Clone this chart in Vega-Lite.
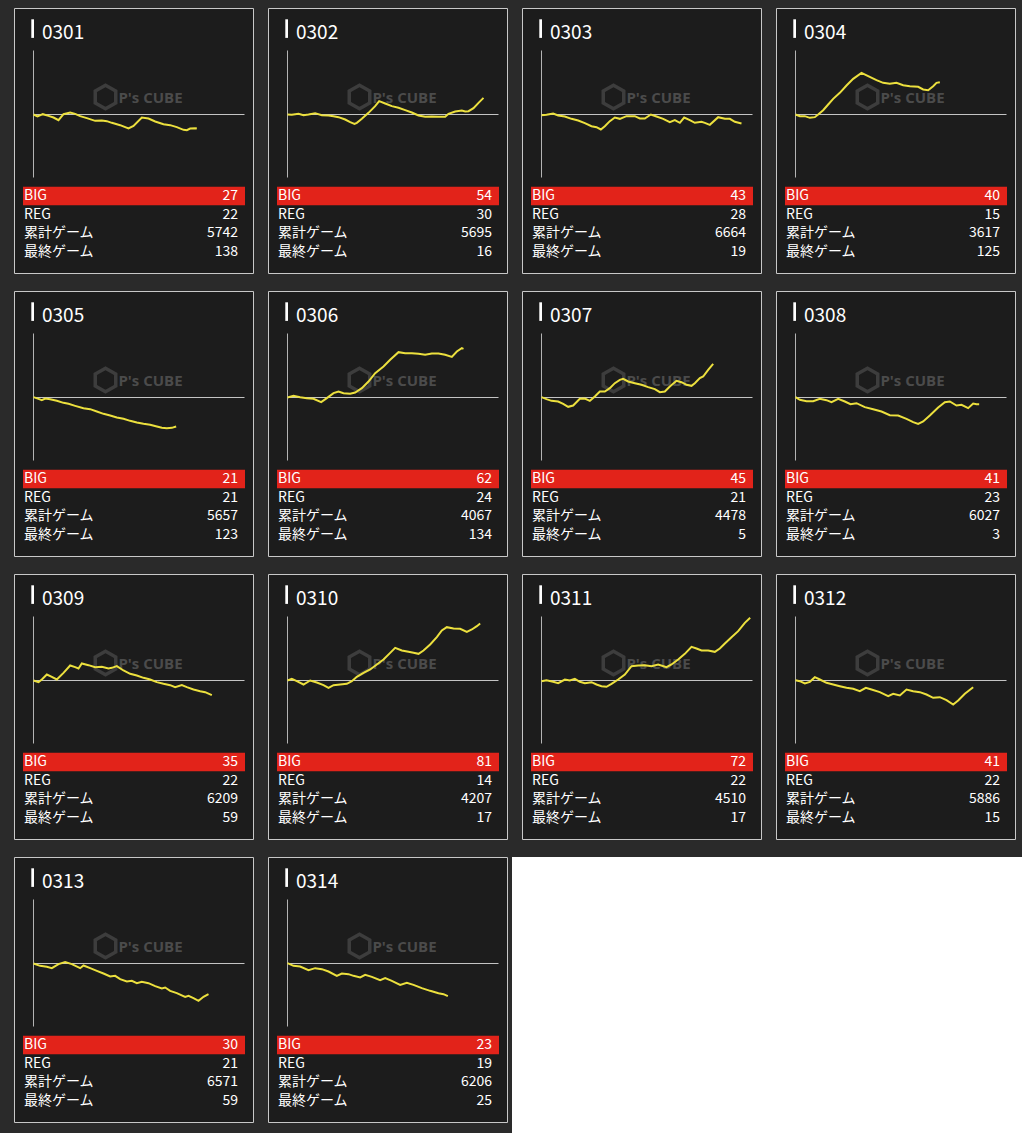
{
"$schema":"https://vega.github.io/schema/vega-lite/v6.json",
"background":"#2a2a2a",
"padding":{"left":13,"top":6,"right":0,"bottom":0},
"config":{"view":{"fill":"#1c1c1c","stroke":"#c8c8c8","strokeWidth":1},"font":"Noto Sans CJK JP","header":{"labels":false,"title":null,"labelPadding":0,"titlePadding":0,"labelFontSize":1,"labelColor":"transparent"},"headerFacet":{"labels":false,"title":null,"labelPadding":0,"titlePadding":0,"labelFontSize":1,"labelColor":"transparent"}},
"datasets":{"d":[
{"p":"0301","item":"BIG","value":27},{"p":"0301","item":"REG","value":22},{"p":"0301","item":"累計ゲーム","value":5742},{"p":"0301","item":"最終ゲーム","value":138},
{"p":"0302","item":"BIG","value":54},{"p":"0302","item":"REG","value":30},{"p":"0302","item":"累計ゲーム","value":5695},{"p":"0302","item":"最終ゲーム","value":16},
{"p":"0303","item":"BIG","value":43},{"p":"0303","item":"REG","value":28},{"p":"0303","item":"累計ゲーム","value":6664},{"p":"0303","item":"最終ゲーム","value":19},
{"p":"0304","item":"BIG","value":40},{"p":"0304","item":"REG","value":15},{"p":"0304","item":"累計ゲーム","value":3617},{"p":"0304","item":"最終ゲーム","value":125},
{"p":"0305","item":"BIG","value":21},{"p":"0305","item":"REG","value":21},{"p":"0305","item":"累計ゲーム","value":5657},{"p":"0305","item":"最終ゲーム","value":123},
{"p":"0306","item":"BIG","value":62},{"p":"0306","item":"REG","value":24},{"p":"0306","item":"累計ゲーム","value":4067},{"p":"0306","item":"最終ゲーム","value":134},
{"p":"0307","item":"BIG","value":45},{"p":"0307","item":"REG","value":21},{"p":"0307","item":"累計ゲーム","value":4478},{"p":"0307","item":"最終ゲーム","value":5},
{"p":"0308","item":"BIG","value":41},{"p":"0308","item":"REG","value":23},{"p":"0308","item":"累計ゲーム","value":6027},{"p":"0308","item":"最終ゲーム","value":3},
{"p":"0309","item":"BIG","value":35},{"p":"0309","item":"REG","value":22},{"p":"0309","item":"累計ゲーム","value":6209},{"p":"0309","item":"最終ゲーム","value":59},
{"p":"0310","item":"BIG","value":81},{"p":"0310","item":"REG","value":14},{"p":"0310","item":"累計ゲーム","value":4207},{"p":"0310","item":"最終ゲーム","value":17},
{"p":"0311","item":"BIG","value":72},{"p":"0311","item":"REG","value":22},{"p":"0311","item":"累計ゲーム","value":4510},{"p":"0311","item":"最終ゲーム","value":17},
{"p":"0312","item":"BIG","value":41},{"p":"0312","item":"REG","value":22},{"p":"0312","item":"累計ゲーム","value":5886},{"p":"0312","item":"最終ゲーム","value":15},
{"p":"0313","item":"BIG","value":30},{"p":"0313","item":"REG","value":21},{"p":"0313","item":"累計ゲーム","value":6571},{"p":"0313","item":"最終ゲーム","value":59},
{"p":"0314","item":"BIG","value":23},{"p":"0314","item":"REG","value":19},{"p":"0314","item":"累計ゲーム","value":6206},{"p":"0314","item":"最終ゲーム","value":25},
{"p":"0301","g":0,"v":0},{"p":"0301","g":120,"v":-60},{"p":"0301","g":280,"v":10},{"p":"0301","g":450,"v":-40},{"p":"0301","g":600,"v":-90},{"p":"0301","g":750,"v":-170},{"p":"0301","g":900,"v":10},{"p":"0301","g":1100,"v":60},{"p":"0301","g":1250,"v":20},{"p":"0301","g":1400,"v":-50},{"p":"0301","g":1600,"v":-110},{"p":"0301","g":1850,"v":-190},{"p":"0301","g":2050,"v":-180},{"p":"0301","g":2200,"v":-200},{"p":"0301","g":2350,"v":-250},{"p":"0301","g":2600,"v":-320},{"p":"0301","g":2850,"v":-420},{"p":"0301","g":3000,"v":-340},{"p":"0301","g":3250,"v":-90},{"p":"0301","g":3450,"v":-120},{"p":"0301","g":3650,"v":-210},{"p":"0301","g":3900,"v":-290},{"p":"0301","g":4100,"v":-320},{"p":"0301","g":4300,"v":-380},{"p":"0301","g":4500,"v":-460},{"p":"0301","g":4600,"v":-470},{"p":"0301","g":4700,"v":-420},{"p":"0301","g":4850,"v":-410},{"p":"0301","g":4900,"v":-420},
{"p":"0302","g":0,"v":0},{"p":"0302","g":130,"v":-10},{"p":"0302","g":330,"v":20},{"p":"0302","g":480,"v":-20},{"p":"0302","g":630,"v":0},{"p":"0302","g":830,"v":40},{"p":"0302","g":1030,"v":-20},{"p":"0302","g":1230,"v":-30},{"p":"0302","g":1380,"v":-50},{"p":"0302","g":1530,"v":-80},{"p":"0302","g":1730,"v":-150},{"p":"0302","g":1880,"v":-230},{"p":"0302","g":2010,"v":-280},{"p":"0302","g":2080,"v":-250},{"p":"0302","g":2230,"v":-130},{"p":"0302","g":2430,"v":50},{"p":"0302","g":2630,"v":250},{"p":"0302","g":2750,"v":400},{"p":"0302","g":2930,"v":330},{"p":"0302","g":3130,"v":250},{"p":"0302","g":3330,"v":200},{"p":"0302","g":3530,"v":130},{"p":"0302","g":3730,"v":60},{"p":"0302","g":3930,"v":-30},{"p":"0302","g":4130,"v":-70},{"p":"0302","g":4330,"v":-60},{"p":"0302","g":4530,"v":-70},{"p":"0302","g":4730,"v":-70},{"p":"0302","g":4830,"v":20},{"p":"0302","g":5030,"v":90},{"p":"0302","g":5230,"v":120},{"p":"0302","g":5330,"v":90},{"p":"0302","g":5430,"v":100},{"p":"0302","g":5580,"v":190},{"p":"0302","g":5730,"v":350},{"p":"0302","g":5880,"v":500},
{"p":"0303","g":0,"v":-20},{"p":"0303","g":150,"v":-10},{"p":"0303","g":350,"v":30},{"p":"0303","g":500,"v":-30},{"p":"0303","g":700,"v":-60},{"p":"0303","g":900,"v":-130},{"p":"0303","g":1100,"v":-180},{"p":"0303","g":1300,"v":-260},{"p":"0303","g":1500,"v":-350},{"p":"0303","g":1650,"v":-380},{"p":"0303","g":1780,"v":-450},{"p":"0303","g":1900,"v":-350},{"p":"0303","g":2050,"v":-200},{"p":"0303","g":2200,"v":-90},{"p":"0303","g":2350,"v":-130},{"p":"0303","g":2550,"v":-50},{"p":"0303","g":2800,"v":-50},{"p":"0303","g":2950,"v":-120},{"p":"0303","g":3100,"v":-120},{"p":"0303","g":3280,"v":0},{"p":"0303","g":3450,"v":-60},{"p":"0303","g":3650,"v":-130},{"p":"0303","g":3850,"v":-230},{"p":"0303","g":4000,"v":-170},{"p":"0303","g":4150,"v":-250},{"p":"0303","g":4280,"v":-90},{"p":"0303","g":4450,"v":-170},{"p":"0303","g":4600,"v":-250},{"p":"0303","g":4800,"v":-220},{"p":"0303","g":4900,"v":-250},{"p":"0303","g":5050,"v":-310},{"p":"0303","g":5300,"v":-80},{"p":"0303","g":5500,"v":-130},{"p":"0303","g":5650,"v":-130},{"p":"0303","g":5800,"v":-220},{"p":"0303","g":6000,"v":-270},
{"p":"0304","g":0,"v":0},{"p":"0304","g":130,"v":-50},{"p":"0304","g":280,"v":-50},{"p":"0304","g":430,"v":-100},{"p":"0304","g":580,"v":-80},{"p":"0304","g":680,"v":0},{"p":"0304","g":830,"v":130},{"p":"0304","g":980,"v":300},{"p":"0304","g":1130,"v":470},{"p":"0304","g":1330,"v":650},{"p":"0304","g":1530,"v":870},{"p":"0304","g":1730,"v":1070},{"p":"0304","g":1980,"v":1250},{"p":"0304","g":2180,"v":1150},{"p":"0304","g":2430,"v":1030},{"p":"0304","g":2630,"v":950},{"p":"0304","g":2830,"v":920},{"p":"0304","g":3030,"v":950},{"p":"0304","g":3230,"v":880},{"p":"0304","g":3430,"v":850},{"p":"0304","g":3680,"v":830},{"p":"0304","g":3830,"v":750},{"p":"0304","g":3980,"v":730},{"p":"0304","g":4130,"v":850},{"p":"0304","g":4230,"v":950},{"p":"0304","g":4330,"v":970},
{"p":"0305","g":0,"v":10},{"p":"0305","g":150,"v":-40},{"p":"0305","g":250,"v":-80},{"p":"0305","g":350,"v":-30},{"p":"0305","g":500,"v":-50},{"p":"0305","g":700,"v":-100},{"p":"0305","g":900,"v":-160},{"p":"0305","g":1050,"v":-190},{"p":"0305","g":1250,"v":-250},{"p":"0305","g":1500,"v":-320},{"p":"0305","g":1700,"v":-350},{"p":"0305","g":1900,"v":-420},{"p":"0305","g":2100,"v":-490},{"p":"0305","g":2300,"v":-540},{"p":"0305","g":2500,"v":-600},{"p":"0305","g":2700,"v":-640},{"p":"0305","g":2900,"v":-700},{"p":"0305","g":3100,"v":-750},{"p":"0305","g":3300,"v":-790},{"p":"0305","g":3500,"v":-820},{"p":"0305","g":3700,"v":-870},{"p":"0305","g":3850,"v":-910},{"p":"0305","g":4000,"v":-920},{"p":"0305","g":4150,"v":-910},{"p":"0305","g":4280,"v":-870},
{"p":"0306","g":0,"v":0},{"p":"0306","g":180,"v":50},{"p":"0306","g":380,"v":10},{"p":"0306","g":580,"v":-20},{"p":"0306","g":780,"v":-40},{"p":"0306","g":1010,"v":-140},{"p":"0306","g":1180,"v":-20},{"p":"0306","g":1380,"v":130},{"p":"0306","g":1530,"v":180},{"p":"0306","g":1680,"v":130},{"p":"0306","g":1880,"v":110},{"p":"0306","g":2030,"v":150},{"p":"0306","g":2230,"v":280},{"p":"0306","g":2430,"v":480},{"p":"0306","g":2630,"v":730},{"p":"0306","g":2880,"v":930},{"p":"0306","g":3080,"v":1130},{"p":"0306","g":3330,"v":1360},{"p":"0306","g":3530,"v":1330},{"p":"0306","g":3730,"v":1330},{"p":"0306","g":3930,"v":1310},{"p":"0306","g":4130,"v":1280},{"p":"0306","g":4330,"v":1320},{"p":"0306","g":4530,"v":1320},{"p":"0306","g":4730,"v":1280},{"p":"0306","g":4930,"v":1220},{"p":"0306","g":5080,"v":1380},{"p":"0306","g":5230,"v":1480},{"p":"0306","g":5280,"v":1460},
{"p":"0307","g":0,"v":10},{"p":"0307","g":150,"v":-50},{"p":"0307","g":300,"v":-100},{"p":"0307","g":500,"v":-120},{"p":"0307","g":650,"v":-190},{"p":"0307","g":800,"v":-280},{"p":"0307","g":950,"v":-240},{"p":"0307","g":1150,"v":-40},{"p":"0307","g":1300,"v":-30},{"p":"0307","g":1450,"v":-100},{"p":"0307","g":1600,"v":30},{"p":"0307","g":1750,"v":180},{"p":"0307","g":1900,"v":180},{"p":"0307","g":2050,"v":280},{"p":"0307","g":2200,"v":430},{"p":"0307","g":2350,"v":530},{"p":"0307","g":2450,"v":560},{"p":"0307","g":2600,"v":480},{"p":"0307","g":2800,"v":430},{"p":"0307","g":3000,"v":380},{"p":"0307","g":3200,"v":310},{"p":"0307","g":3400,"v":250},{"p":"0307","g":3550,"v":160},{"p":"0307","g":3700,"v":180},{"p":"0307","g":3850,"v":330},{"p":"0307","g":4050,"v":500},{"p":"0307","g":4200,"v":460},{"p":"0307","g":4350,"v":380},{"p":"0307","g":4500,"v":350},{"p":"0307","g":4600,"v":430},{"p":"0307","g":4750,"v":580},{"p":"0307","g":4850,"v":630},{"p":"0307","g":5000,"v":830},{"p":"0307","g":5150,"v":1010},
{"p":"0308","g":0,"v":10},{"p":"0308","g":130,"v":-70},{"p":"0308","g":330,"v":-110},{"p":"0308","g":530,"v":-110},{"p":"0308","g":730,"v":-40},{"p":"0308","g":930,"v":-80},{"p":"0308","g":1080,"v":-140},{"p":"0308","g":1280,"v":-40},{"p":"0308","g":1480,"v":-120},{"p":"0308","g":1650,"v":-200},{"p":"0308","g":1830,"v":-170},{"p":"0308","g":2080,"v":-290},{"p":"0308","g":2330,"v":-350},{"p":"0308","g":2580,"v":-420},{"p":"0308","g":2830,"v":-530},{"p":"0308","g":3080,"v":-540},{"p":"0308","g":3330,"v":-640},{"p":"0308","g":3530,"v":-740},{"p":"0308","g":3680,"v":-790},{"p":"0308","g":3830,"v":-720},{"p":"0308","g":4030,"v":-540},{"p":"0308","g":4280,"v":-300},{"p":"0308","g":4480,"v":-140},{"p":"0308","g":4630,"v":-120},{"p":"0308","g":4830,"v":-240},{"p":"0308","g":4980,"v":-220},{"p":"0308","g":5180,"v":-320},{"p":"0308","g":5330,"v":-180},{"p":"0308","g":5430,"v":-200},{"p":"0308","g":5510,"v":-200},
{"p":"0309","g":0,"v":0},{"p":"0309","g":150,"v":-50},{"p":"0309","g":250,"v":30},{"p":"0309","g":400,"v":180},{"p":"0309","g":550,"v":110},{"p":"0309","g":700,"v":30},{"p":"0309","g":900,"v":230},{"p":"0309","g":1100,"v":450},{"p":"0309","g":1250,"v":400},{"p":"0309","g":1350,"v":360},{"p":"0309","g":1450,"v":510},{"p":"0309","g":1650,"v":460},{"p":"0309","g":1850,"v":400},{"p":"0309","g":2050,"v":410},{"p":"0309","g":2250,"v":360},{"p":"0309","g":2350,"v":380},{"p":"0309","g":2500,"v":430},{"p":"0309","g":2700,"v":300},{"p":"0309","g":2900,"v":200},{"p":"0309","g":3100,"v":150},{"p":"0309","g":3300,"v":80},{"p":"0309","g":3500,"v":30},{"p":"0309","g":3700,"v":-50},{"p":"0309","g":3900,"v":-100},{"p":"0309","g":4100,"v":-140},{"p":"0309","g":4250,"v":-200},{"p":"0309","g":4450,"v":-140},{"p":"0309","g":4600,"v":-200},{"p":"0309","g":4800,"v":-270},{"p":"0309","g":5000,"v":-320},{"p":"0309","g":5150,"v":-350},{"p":"0309","g":5350,"v":-440},
{"p":"0310","g":0,"v":0},{"p":"0310","g":130,"v":50},{"p":"0310","g":280,"v":-20},{"p":"0310","g":480,"v":-120},{"p":"0310","g":680,"v":0},{"p":"0310","g":880,"v":-60},{"p":"0310","g":1080,"v":-140},{"p":"0310","g":1230,"v":-220},{"p":"0310","g":1380,"v":-140},{"p":"0310","g":1580,"v":-120},{"p":"0310","g":1780,"v":-100},{"p":"0310","g":1930,"v":-20},{"p":"0310","g":2080,"v":110},{"p":"0310","g":2280,"v":230},{"p":"0310","g":2480,"v":330},{"p":"0310","g":2680,"v":480},{"p":"0310","g":2880,"v":630},{"p":"0310","g":3080,"v":830},{"p":"0310","g":3230,"v":980},{"p":"0310","g":3430,"v":900},{"p":"0310","g":3630,"v":860},{"p":"0310","g":3780,"v":830},{"p":"0310","g":3930,"v":800},{"p":"0310","g":4080,"v":900},{"p":"0310","g":4280,"v":1080},{"p":"0310","g":4480,"v":1300},{"p":"0310","g":4630,"v":1500},{"p":"0310","g":4780,"v":1600},{"p":"0310","g":4980,"v":1560},{"p":"0310","g":5180,"v":1550},{"p":"0310","g":5380,"v":1460},{"p":"0310","g":5530,"v":1530},{"p":"0310","g":5680,"v":1630},{"p":"0310","g":5780,"v":1710},
{"p":"0311","g":0,"v":-20},{"p":"0311","g":150,"v":10},{"p":"0311","g":350,"v":-40},{"p":"0311","g":500,"v":-80},{"p":"0311","g":700,"v":30},{"p":"0311","g":850,"v":0},{"p":"0311","g":1000,"v":50},{"p":"0311","g":1150,"v":-40},{"p":"0311","g":1300,"v":-80},{"p":"0311","g":1500,"v":-50},{"p":"0311","g":1650,"v":-120},{"p":"0311","g":1800,"v":-170},{"p":"0311","g":1950,"v":-190},{"p":"0311","g":2100,"v":-100},{"p":"0311","g":2300,"v":30},{"p":"0311","g":2500,"v":180},{"p":"0311","g":2700,"v":430},{"p":"0311","g":2900,"v":450},{"p":"0311","g":3100,"v":460},{"p":"0311","g":3300,"v":430},{"p":"0311","g":3500,"v":480},{"p":"0311","g":3750,"v":400},{"p":"0311","g":3900,"v":480},{"p":"0311","g":4100,"v":630},{"p":"0311","g":4300,"v":800},{"p":"0311","g":4500,"v":1010},{"p":"0311","g":4650,"v":960},{"p":"0311","g":4800,"v":900},{"p":"0311","g":5000,"v":900},{"p":"0311","g":5200,"v":860},{"p":"0311","g":5350,"v":960},{"p":"0311","g":5500,"v":1110},{"p":"0311","g":5700,"v":1300},{"p":"0311","g":5900,"v":1480},{"p":"0311","g":6100,"v":1730},{"p":"0311","g":6260,"v":1880},
{"p":"0312","g":0,"v":10},{"p":"0312","g":130,"v":-20},{"p":"0312","g":280,"v":-90},{"p":"0312","g":430,"v":-40},{"p":"0312","g":580,"v":100},{"p":"0312","g":730,"v":30},{"p":"0312","g":930,"v":-70},{"p":"0312","g":1130,"v":-120},{"p":"0312","g":1330,"v":-170},{"p":"0312","g":1530,"v":-220},{"p":"0312","g":1730,"v":-250},{"p":"0312","g":1930,"v":-320},{"p":"0312","g":2110,"v":-220},{"p":"0312","g":2280,"v":-270},{"p":"0312","g":2530,"v":-350},{"p":"0312","g":2780,"v":-470},{"p":"0312","g":2930,"v":-400},{"p":"0312","g":3130,"v":-450},{"p":"0312","g":3330,"v":-270},{"p":"0312","g":3530,"v":-320},{"p":"0312","g":3730,"v":-350},{"p":"0312","g":3930,"v":-420},{"p":"0312","g":4130,"v":-520},{"p":"0312","g":4330,"v":-500},{"p":"0312","g":4530,"v":-590},{"p":"0312","g":4730,"v":-720},{"p":"0312","g":4880,"v":-600},{"p":"0312","g":5080,"v":-400},{"p":"0312","g":5330,"v":-200},
{"p":"0313","g":0,"v":0},{"p":"0313","g":200,"v":-70},{"p":"0313","g":400,"v":-100},{"p":"0313","g":550,"v":-140},{"p":"0313","g":750,"v":-20},{"p":"0313","g":950,"v":40},{"p":"0313","g":1150,"v":-20},{"p":"0313","g":1400,"v":-140},{"p":"0313","g":1500,"v":-60},{"p":"0313","g":1700,"v":-140},{"p":"0313","g":1900,"v":-220},{"p":"0313","g":2100,"v":-300},{"p":"0313","g":2300,"v":-390},{"p":"0313","g":2450,"v":-370},{"p":"0313","g":2600,"v":-470},{"p":"0313","g":2800,"v":-540},{"p":"0313","g":2950,"v":-520},{"p":"0313","g":3100,"v":-590},{"p":"0313","g":3250,"v":-550},{"p":"0313","g":3450,"v":-590},{"p":"0313","g":3650,"v":-680},{"p":"0313","g":3850,"v":-750},{"p":"0313","g":3950,"v":-720},{"p":"0313","g":4100,"v":-820},{"p":"0313","g":4300,"v":-890},{"p":"0313","g":4550,"v":-1000},{"p":"0313","g":4650,"v":-970},{"p":"0313","g":4800,"v":-1040},{"p":"0313","g":4950,"v":-1120},{"p":"0313","g":5100,"v":-1000},{"p":"0313","g":5250,"v":-920},
{"p":"0314","g":0,"v":10},{"p":"0314","g":180,"v":-70},{"p":"0314","g":380,"v":-90},{"p":"0314","g":630,"v":-200},{"p":"0314","g":830,"v":-140},{"p":"0314","g":1030,"v":-170},{"p":"0314","g":1230,"v":-240},{"p":"0314","g":1480,"v":-370},{"p":"0314","g":1630,"v":-300},{"p":"0314","g":1830,"v":-320},{"p":"0314","g":1980,"v":-370},{"p":"0314","g":2180,"v":-420},{"p":"0314","g":2330,"v":-340},{"p":"0314","g":2530,"v":-400},{"p":"0314","g":2780,"v":-500},{"p":"0314","g":2930,"v":-440},{"p":"0314","g":3130,"v":-520},{"p":"0314","g":3380,"v":-640},{"p":"0314","g":3580,"v":-580},{"p":"0314","g":3780,"v":-640},{"p":"0314","g":4030,"v":-740},{"p":"0314","g":4280,"v":-820},{"p":"0314","g":4530,"v":-890},{"p":"0314","g":4680,"v":-920},{"p":"0314","g":4810,"v":-980}
]},
"vconcat":[
{
"data":{"name":"d"},
"transform":[{"filter":{"field":"p","oneOf":["0301","0302","0303","0304","0305","0306","0307","0308","0309","0310","0311","0312"]}}],
"facet":{"field":"p","type":"nominal","header":{"labels":false,"title":null,"labelPadding":0,"titlePadding":0,"labelFontSize":1,"labelColor":"transparent"}},
"columns":4,
"spacing":{"row":15,"column":13},
"spec":{
"width":239,"height":265,
"layer":[
{"layer":[
{"transform":[{"filter":"datum.item === 'BIG'"}],"mark":{"type":"point","shape":"M0,-1L0.866,-0.5L0.866,0.5L0,1L-0.866,0.5L-0.866,-0.5Z","filled":false,"stroke":"#4b4b4b","strokeWidth":3.5,"size":560},"encoding":{"x":{"datum":2160,"type":"quantitative","scale":{"domain":[0,6330],"range":[19.5,230.5]},"axis":null},"y":{"datum":525,"type":"quantitative","scale":{"domain":[-1890,1920],"range":[169.5,42.5]},"axis":null}}},
{"transform":[{"filter":"datum.item === 'BIG'"}],"mark":{"type":"text","text":"P's CUBE","font":"Open Sans","fontWeight":"bold","fontSize":15,"color":"#4b4b4b","align":"center","baseline":"middle"},"encoding":{"x":{"datum":3510,"type":"quantitative","scale":{"domain":[0,6330],"range":[19.5,230.5]},"axis":null},"y":{"datum":510,"type":"quantitative","scale":{"domain":[-1890,1920],"range":[169.5,42.5]},"axis":null}}},
{"transform":[{"filter":"datum.item === 'BIG'"}],"mark":{"type":"rule","color":"#c4c4c4","strokeWidth":1},"encoding":{"x":{"datum":0,"type":"quantitative","scale":{"domain":[0,6330],"range":[19.5,230.5]},"axis":null},"x2":{"datum":6330},"y":{"datum":0,"type":"quantitative","scale":{"domain":[-1890,1920],"range":[169.5,42.5]},"axis":null}}},
{"transform":[{"filter":"datum.item === 'BIG'"}],"mark":{"type":"rule","color":"#b4b4b4","strokeWidth":1},"encoding":{"x":{"datum":0,"type":"quantitative","scale":{"domain":[0,6330],"range":[19.5,230.5]},"axis":null},"y":{"datum":-1890,"type":"quantitative","scale":{"domain":[-1890,1920],"range":[169.5,42.5]},"axis":null},"y2":{"datum":1920}}},
{"transform":[{"filter":"isValid(datum.g)"}],"mark":{"type":"line","color":"#ece03e","strokeWidth":2},"encoding":{"x":{"field":"g","type":"quantitative","scale":{"domain":[0,6330],"range":[19.5,230.5]},"axis":null},"y":{"field":"v","type":"quantitative","scale":{"domain":[-1890,1920],"range":[169.5,42.5]},"axis":null}}}
]},
{"layer":[
{"transform":[{"filter":"datum.item === 'BIG'"}],"mark":{"type":"rect","color":"#e2231a"},"encoding":{"x":{"datum":0,"type":"quantitative","scale":{"domain":[0,1],"range":[9,231]},"axis":null},"x2":{"datum":1},"y":{"field":"item","type":"nominal","scale":{"type":"band","domain":["title","s1","s2","s3","s4","s5","s6","s7","s8","BIG","REG","累計ゲーム","最終ゲーム"],"range":[11.3,253.1],"paddingInner":0,"paddingOuter":0},"axis":null}}},
{"transform":[{"filter":"datum.item === 'BIG'"}],"mark":{"type":"rect","color":"#ffffff"},"encoding":{"x":{"datum":0.0374,"type":"quantitative","scale":{"domain":[0,1],"range":[9,231]},"axis":null},"x2":{"datum":0.0495},"y":{"datum":"title","type":"nominal","scale":{"type":"band","domain":["title","s1","s2","s3","s4","s5","s6","s7","s8","BIG","REG","累計ゲーム","最終ゲーム"],"range":[11.3,253.1],"paddingInner":0,"paddingOuter":0},"axis":null}}},
{"transform":[{"filter":"datum.item === 'BIG'"}],"mark":{"type":"text","align":"left","baseline":"middle","fontSize":19,"color":"#ffffff","font":"Noto Sans CJK JP"},"encoding":{"x":{"datum":0.0856,"type":"quantitative","scale":{"domain":[0,1],"range":[9,231]},"axis":null},"y":{"datum":"title","type":"nominal","bandPosition":0.71,"scale":{"type":"band","domain":["title","s1","s2","s3","s4","s5","s6","s7","s8","BIG","REG","累計ゲーム","最終ゲーム"],"range":[11.3,253.1],"paddingInner":0,"paddingOuter":0},"axis":null},"text":{"field":"p"}}},
{"transform":[{"filter":"isValid(datum.item)"}],"mark":{"type":"text","align":"left","baseline":"middle","dx":1,"fontSize":14,"color":"#ffffff","font":"Noto Sans CJK JP"},"encoding":{"x":{"datum":0,"type":"quantitative","scale":{"domain":[0,1],"range":[9,231]},"axis":null},"y":{"field":"item","type":"nominal","bandPosition":0.5,"scale":{"type":"band","domain":["title","s1","s2","s3","s4","s5","s6","s7","s8","BIG","REG","累計ゲーム","最終ゲーム"],"range":[11.3,253.1],"paddingInner":0,"paddingOuter":0},"axis":null},"text":{"field":"item"}}},
{"transform":[{"filter":"isValid(datum.item)"}],"mark":{"type":"text","align":"right","baseline":"middle","dx":-7,"fontSize":14,"color":"#ffffff","font":"Noto Sans CJK JP"},"encoding":{"x":{"datum":1,"type":"quantitative","scale":{"domain":[0,1],"range":[9,231]},"axis":null},"y":{"field":"item","type":"nominal","bandPosition":0.5,"scale":{"type":"band","domain":["title","s1","s2","s3","s4","s5","s6","s7","s8","BIG","REG","累計ゲーム","最終ゲーム"],"range":[11.3,253.1],"paddingInner":0,"paddingOuter":0},"axis":null},"text":{"field":"value"}}}
]}
],
"resolve":{"scale":{"x":"independent","y":"independent"}}
}
},
{
"spacing":4,
"hconcat":[
{
"data":{"name":"d"},
"transform":[{"filter":{"field":"p","oneOf":["0313","0314"]}}],
"facet":{"field":"p","type":"nominal","header":{"labels":false,"title":null,"labelPadding":0,"titlePadding":0,"labelFontSize":1,"labelColor":"transparent"}},
"columns":4,
"spacing":{"row":15,"column":13},
"spec":{
"width":239,"height":265,
"layer":[
{"layer":[
{"transform":[{"filter":"datum.item === 'BIG'"}],"mark":{"type":"point","shape":"M0,-1L0.866,-0.5L0.866,0.5L0,1L-0.866,0.5L-0.866,-0.5Z","filled":false,"stroke":"#4b4b4b","strokeWidth":3.5,"size":560},"encoding":{"x":{"datum":2160,"type":"quantitative","scale":{"domain":[0,6330],"range":[19.5,230.5]},"axis":null},"y":{"datum":525,"type":"quantitative","scale":{"domain":[-1890,1920],"range":[169.5,42.5]},"axis":null}}},
{"transform":[{"filter":"datum.item === 'BIG'"}],"mark":{"type":"text","text":"P's CUBE","font":"Open Sans","fontWeight":"bold","fontSize":15,"color":"#4b4b4b","align":"center","baseline":"middle"},"encoding":{"x":{"datum":3510,"type":"quantitative","scale":{"domain":[0,6330],"range":[19.5,230.5]},"axis":null},"y":{"datum":510,"type":"quantitative","scale":{"domain":[-1890,1920],"range":[169.5,42.5]},"axis":null}}},
{"transform":[{"filter":"datum.item === 'BIG'"}],"mark":{"type":"rule","color":"#c4c4c4","strokeWidth":1},"encoding":{"x":{"datum":0,"type":"quantitative","scale":{"domain":[0,6330],"range":[19.5,230.5]},"axis":null},"x2":{"datum":6330},"y":{"datum":0,"type":"quantitative","scale":{"domain":[-1890,1920],"range":[169.5,42.5]},"axis":null}}},
{"transform":[{"filter":"datum.item === 'BIG'"}],"mark":{"type":"rule","color":"#b4b4b4","strokeWidth":1},"encoding":{"x":{"datum":0,"type":"quantitative","scale":{"domain":[0,6330],"range":[19.5,230.5]},"axis":null},"y":{"datum":-1890,"type":"quantitative","scale":{"domain":[-1890,1920],"range":[169.5,42.5]},"axis":null},"y2":{"datum":1920}}},
{"transform":[{"filter":"isValid(datum.g)"}],"mark":{"type":"line","color":"#ece03e","strokeWidth":2},"encoding":{"x":{"field":"g","type":"quantitative","scale":{"domain":[0,6330],"range":[19.5,230.5]},"axis":null},"y":{"field":"v","type":"quantitative","scale":{"domain":[-1890,1920],"range":[169.5,42.5]},"axis":null}}}
]},
{"layer":[
{"transform":[{"filter":"datum.item === 'BIG'"}],"mark":{"type":"rect","color":"#e2231a"},"encoding":{"x":{"datum":0,"type":"quantitative","scale":{"domain":[0,1],"range":[9,231]},"axis":null},"x2":{"datum":1},"y":{"field":"item","type":"nominal","scale":{"type":"band","domain":["title","s1","s2","s3","s4","s5","s6","s7","s8","BIG","REG","累計ゲーム","最終ゲーム"],"range":[11.3,253.1],"paddingInner":0,"paddingOuter":0},"axis":null}}},
{"transform":[{"filter":"datum.item === 'BIG'"}],"mark":{"type":"rect","color":"#ffffff"},"encoding":{"x":{"datum":0.0374,"type":"quantitative","scale":{"domain":[0,1],"range":[9,231]},"axis":null},"x2":{"datum":0.0495},"y":{"datum":"title","type":"nominal","scale":{"type":"band","domain":["title","s1","s2","s3","s4","s5","s6","s7","s8","BIG","REG","累計ゲーム","最終ゲーム"],"range":[11.3,253.1],"paddingInner":0,"paddingOuter":0},"axis":null}}},
{"transform":[{"filter":"datum.item === 'BIG'"}],"mark":{"type":"text","align":"left","baseline":"middle","fontSize":19,"color":"#ffffff","font":"Noto Sans CJK JP"},"encoding":{"x":{"datum":0.0856,"type":"quantitative","scale":{"domain":[0,1],"range":[9,231]},"axis":null},"y":{"datum":"title","type":"nominal","bandPosition":0.71,"scale":{"type":"band","domain":["title","s1","s2","s3","s4","s5","s6","s7","s8","BIG","REG","累計ゲーム","最終ゲーム"],"range":[11.3,253.1],"paddingInner":0,"paddingOuter":0},"axis":null},"text":{"field":"p"}}},
{"transform":[{"filter":"isValid(datum.item)"}],"mark":{"type":"text","align":"left","baseline":"middle","dx":1,"fontSize":14,"color":"#ffffff","font":"Noto Sans CJK JP"},"encoding":{"x":{"datum":0,"type":"quantitative","scale":{"domain":[0,1],"range":[9,231]},"axis":null},"y":{"field":"item","type":"nominal","bandPosition":0.5,"scale":{"type":"band","domain":["title","s1","s2","s3","s4","s5","s6","s7","s8","BIG","REG","累計ゲーム","最終ゲーム"],"range":[11.3,253.1],"paddingInner":0,"paddingOuter":0},"axis":null},"text":{"field":"item"}}},
{"transform":[{"filter":"isValid(datum.item)"}],"mark":{"type":"text","align":"right","baseline":"middle","dx":-7,"fontSize":14,"color":"#ffffff","font":"Noto Sans CJK JP"},"encoding":{"x":{"datum":1,"type":"quantitative","scale":{"domain":[0,1],"range":[9,231]},"axis":null},"y":{"field":"item","type":"nominal","bandPosition":0.5,"scale":{"type":"band","domain":["title","s1","s2","s3","s4","s5","s6","s7","s8","BIG","REG","累計ゲーム","最終ゲーム"],"range":[11.3,253.1],"paddingInner":0,"paddingOuter":0},"axis":null},"text":{"field":"value"}}}
]}
],
"resolve":{"scale":{"x":"independent","y":"independent"}}
}
},
{
"width":514,"height":277,
"data":{"values":[{}]},
"mark":{"type":"text","text":""},
"view":{"fill":"#ffffff","stroke":null}
}
]
}
],
"spacing":15
}
